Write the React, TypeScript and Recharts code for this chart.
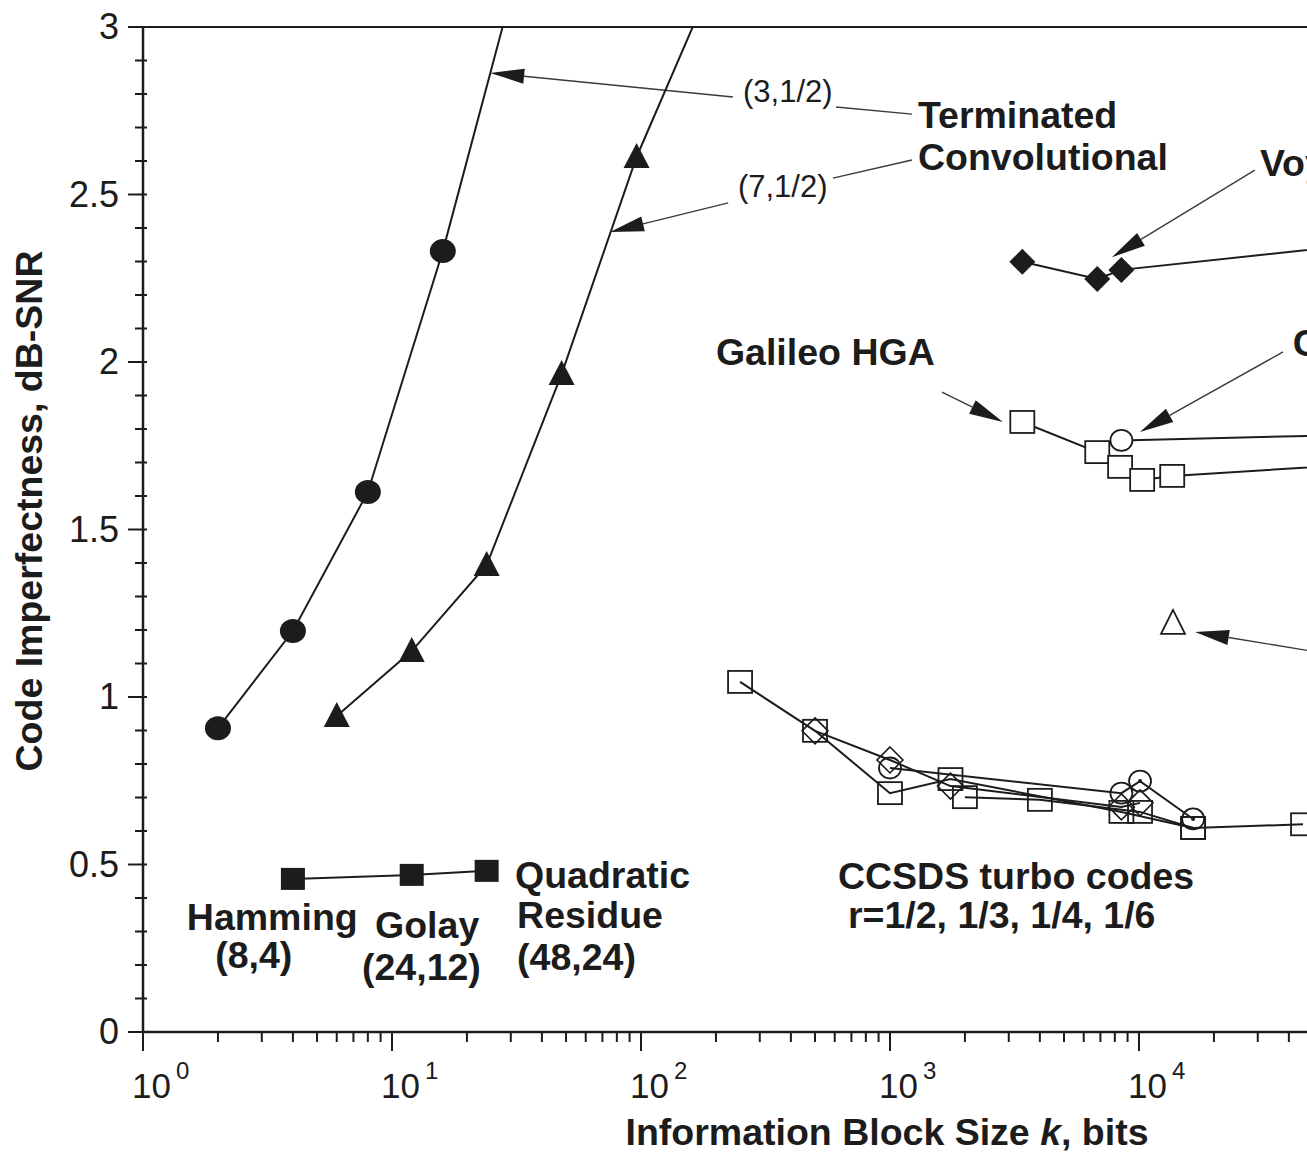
import { Label, Line, LineChart, ReferenceDot, ReferenceLine, XAxis, YAxis } from "recharts";

const INK = "#1c1c1c";
const FONT = "'Liberation Sans', Arial, sans-serif";

// terminated convolutional codes
const conv3K = [2, 4, 8, 16, 32];
const conv3V = [0.907, 1.197, 1.612, 2.331, 3.17];
const conv7K = [6, 12, 24, 48, 96, 192];
const conv7V = [0.943, 1.137, 1.394, 1.964, 2.612, 3.13];

// Hamming (8,4), Golay (24,12), Quadratic Residue (48,24)
const blockK = [4, 12, 24];
const blockV = [0.457, 0.469, 0.481];

// Voyager, Galileo HGA, open circle and open triangle codes
const voyagerK = [3400, 6800, 8500, 100000];
const voyagerV = [2.299, 2.248, 2.275, 2.36];
const galileoK = [3400, 6800, 8400, 10300, 13600, 100000];
const galileoV = [1.821, 1.731, 1.687, 1.648, 1.66, 1.7];
const circleK = [8500, 100000];
const circleV = [1.766, 1.785];
const triangleK = [13700];
const triangleV = [1.221];

// CCSDS turbo codes
const turboAK = [250, 500, 1000, 1750, 8500, 16500, 45600];
const turboAV = [1.045, 0.899, 0.713, 0.755, 0.657, 0.609, 0.62];
const turboBK = [500, 1000, 1750, 8500, 10100];
const turboBV = [0.899, 0.812, 0.734, 0.672, 0.684];
const turboCK = [1000, 8500, 10100, 16500];
const turboCV = [0.788, 0.713, 0.749, 0.636];
const turboDK = [2000, 4000, 10100, 16500];
const turboDV = [0.701, 0.693, 0.657, 0.609];

// axis ticks
const xTicks = [
  1, 2, 3, 4, 5, 6, 7, 8, 9,
  10, 20, 30, 40, 50, 60, 70, 80, 90,
  100, 200, 300, 400, 500, 600, 700, 800, 900,
  1000, 2000, 3000, 4000, 5000, 6000, 7000, 8000, 9000,
  10000, 20000, 30000, 40000,
];
const xMajor = [1, 10, 100, 1000, 10000];
const xExp = ["0", "1", "2", "3", "4"];
const yTicks = [
  0, 0.1, 0.2, 0.3, 0.4, 0.5, 0.6, 0.7, 0.8, 0.9, 1, 1.1, 1.2, 1.3, 1.4, 1.5,
  1.6, 1.7, 1.8, 1.9, 2, 2.1, 2.2, 2.3, 2.4, 2.5, 2.6, 2.7, 2.8, 2.9, 3,
];
const yLabels = [0, 0.5, 1, 1.5, 2, 2.5, 3];

// text notes
const noteText = [
  "(3,1/2)", "(7,1/2)", "Terminated", "Convolutional", "Voyager", "Galileo HGA", "Cassini",
  "Quadratic", "Residue", "(48,24)", "Hamming", "(8,4)", "Golay", "(24,12)",
  "CCSDS turbo codes", "r=1/2, 1/3, 1/4, 1/6",
];
const noteK = [257, 245, 1295, 1295, 30600, 200, 41500, 31.2, 31.8, 31.8, 1.5, 1.95, 8.55, 7.58, 618, 678];
const noteV = [2.776, 2.493, 2.699, 2.573, 2.555, 1.991, 2.018, 0.43, 0.31, 0.185, 0.304, 0.191, 0.281, 0.155, 0.427, 0.31];
const noteBold = [false, false, true, true, true, true, true, true, true, true, true, true, true, true, true, true];

// arrows (tail -> tip) and plain leader lines
const arrowFromK = [234, 224, 29200, 1618, 37900, 58500];
const arrowFromV = [2.791, 2.475, 2.573, 1.91, 2.03, 1.128];
const arrowToK = [24.8, 75.1, 7790, 2843, 10090, 16800];
const arrowToV = [2.863, 2.388, 2.313, 1.821, 1.791, 1.194];
const leaderFromK = [607, 590];
const leaderFromV = [2.761, 2.549];
const leaderToK = [1225, 1225];
const leaderToV = [2.74, 2.603];

const pts = (ks: number[], vs: number[]) => ks.map((k, i) => ({ k, v: vs[i] }));

function filledCircle(p: any) {
  return <ellipse key={p.index} cx={p.cx} cy={p.cy} rx={13} ry={12} fill={INK} />;
}
function filledTriangle(p: any) {
  const { cx, cy } = p;
  return <polygon key={p.index} points={`${cx},${cy - 14} ${cx - 13},${cy + 11} ${cx + 13},${cy + 11}`} fill={INK} />;
}
function filledSquare(p: any) {
  return <rect key={p.index} x={p.cx - 12} y={p.cy - 11} width={24} height={22} fill={INK} />;
}
function filledDiamond(p: any) {
  const { cx, cy } = p;
  return <polygon key={p.index} points={`${cx},${cy - 13} ${cx + 13},${cy} ${cx},${cy + 13} ${cx - 13},${cy}`} fill={INK} />;
}
function openSquare(fill: string) {
  return (p: any) => (
    <rect key={p.index} x={p.cx - 12} y={p.cy - 11} width={24} height={22} fill={fill} stroke={INK} strokeWidth={1.8} />
  );
}
function openCircle(fill: string) {
  return (p: any) => (
    <g key={p.index}>
      <ellipse cx={p.cx} cy={p.cy} rx={11} ry={10.5} fill={fill} stroke={INK} strokeWidth={1.8} />
      {fill === "none" && p.payload.k >= 10000 ? <circle cx={p.cx} cy={p.cy} r={2} fill={INK} /> : null}
    </g>
  );
}
function openDiamond(p: any) {
  const { cx, cy } = p;
  return (
    <polygon key={p.index} points={`${cx},${cy - 13} ${cx + 13},${cy} ${cx},${cy + 13} ${cx - 13},${cy}`}
      fill="none" stroke={INK} strokeWidth={1.6} />
  );
}
function openTriangle(p: any) {
  const { cx, cy } = p;
  return (
    <polygon key={p.index} points={`${cx},${cy - 13} ${cx - 12},${cy + 11} ${cx + 12},${cy + 11}`}
      fill="#fff" stroke={INK} strokeWidth={1.8} />
  );
}

function XTick({ x, y, payload }: any) {
  const idx = xMajor.indexOf(payload.value);
  const major = idx >= 0;
  return (
    <g>
      <line x1={x} y1={y} x2={x} y2={y + (major ? 19 : 10)} stroke={INK} strokeWidth={2} />
      {major ? (
        <text x={x - 11} y={y + 66} fontSize={35} fontFamily={FONT} fill={INK}>
          10
          <tspan dx={5} dy={-19} fontSize={24}>{xExp[idx]}</tspan>
        </text>
      ) : null}
    </g>
  );
}

function YTick({ x, y, payload }: any) {
  const major = yLabels.includes(payload.value);
  return (
    <g>
      <line x1={x - (major ? 15 : 8)} y1={y} x2={x + 4} y2={y} stroke={INK} strokeWidth={2} />
      {major ? (
        <text x={x - 24} y={y + 12} textAnchor="end" fontSize={36} fontFamily={FONT} fill={INK}>
          {String(payload.value)}
        </text>
      ) : null}
    </g>
  );
}

function arrowShape(head: boolean) {
  return (p: any) => {
    const { x1, y1, x2, y2 } = p;
    const dx = x2 - x1;
    const dy = y2 - y1;
    const len = Math.sqrt(dx * dx + dy * dy) || 1;
    const ux = dx / len;
    const uy = dy / len;
    const L = 34;
    const W = 7.5;
    const bx = x2 - ux * L;
    const by = y2 - uy * L;
    return (
      <g>
        <line x1={x1} y1={y1} x2={head ? bx : x2} y2={head ? by : y2} stroke="#3a3a3a" strokeWidth={1.4} />
        {head ? (
          <polygon
            points={`${x2},${y2} ${bx - uy * W},${by + ux * W} ${bx + uy * W},${by - ux * W}`}
            fill={INK}
          />
        ) : null}
      </g>
    );
  };
}

export default function App() {
  const lineProps = { dataKey: "v", stroke: INK, strokeWidth: 2, isAnimationActive: false, activeDot: false } as const;
  return (
    <div style={{ width: 1307, height: 1155, overflow: "hidden", background: "#fff" }}>
      <style>{"body{margin:0;overflow:hidden;background:#fff}"}</style>
      <LineChart width={1307} height={1155} margin={{ top: 27, right: 0, bottom: 0, left: 0 }}>
        <XAxis
          dataKey="k"
          type="number"
          scale="log"
          domain={[1, 47300]}
          allowDataOverflow
          ticks={xTicks}
          interval={0}
          tick={<XTick />}
          tickLine={false}
          tickSize={0}
          tickMargin={0}
          height={123}
          axisLine={{ stroke: INK, strokeWidth: 2.5 }}
        >
          <Label
            content={() => (
              <text x={887} y={1145} textAnchor="middle" fontSize={37.5} fontWeight="bold" fontFamily={FONT} fill={INK}>
                Information Block Size <tspan fontStyle="italic">k</tspan>, bits
              </text>
            )}
          />
        </XAxis>
        <YAxis
          type="number"
          domain={[0, 3]}
          allowDataOverflow
          ticks={yTicks}
          interval={0}
          tick={<YTick />}
          tickLine={false}
          tickSize={0}
          tickMargin={0}
          width={143}
          axisLine={{ stroke: INK, strokeWidth: 2.5 }}
        >
          <Label
            content={() => (
              <text transform="translate(42,511) rotate(-90)" textAnchor="middle" fontSize={37.5} fontWeight="bold" fontFamily={FONT} fill={INK}>
                Code Imperfectness, dB-SNR
              </text>
            )}
          />
        </YAxis>

        <ReferenceLine y={3} stroke={INK} strokeWidth={2} />

        {arrowFromK.map((k, i) => (
          <ReferenceLine
            key={`arrow-${i}`}
            segment={[{ x: k, y: arrowFromV[i] }, { x: arrowToK[i], y: arrowToV[i] }]}
            ifOverflow="visible"
            shape={arrowShape(true)}
          />
        ))}
        {leaderFromK.map((k, i) => (
          <ReferenceLine
            key={`leader-${i}`}
            segment={[{ x: k, y: leaderFromV[i] }, { x: leaderToK[i], y: leaderToV[i] }]}
            ifOverflow="visible"
            shape={arrowShape(false)}
          />
        ))}

        <Line {...lineProps} data={pts(conv3K, conv3V)} dot={filledCircle} />
        <Line {...lineProps} data={pts(conv7K, conv7V)} dot={filledTriangle} />
        <Line {...lineProps} data={pts(blockK, blockV)} dot={filledSquare} />
        <Line {...lineProps} data={pts(voyagerK, voyagerV)} dot={filledDiamond} />
        <Line {...lineProps} data={pts(galileoK, galileoV)} dot={openSquare("#fff")} />
        <Line {...lineProps} data={pts(circleK, circleV)} dot={openCircle("#fff")} />
        <Line {...lineProps} data={pts(triangleK, triangleV)} dot={openTriangle} />
        <Line {...lineProps} data={pts(turboAK, turboAV)} dot={openSquare("none")} />
        <Line {...lineProps} data={pts(turboBK, turboBV)} dot={openDiamond} />
        <Line {...lineProps} data={pts(turboCK, turboCV)} dot={openCircle("none")} />
        <Line {...lineProps} data={pts(turboDK, turboDV)} dot={openSquare("none")} />

        {noteText.map((t, i) => (
          <ReferenceDot
            key={`note-${i}`}
            x={noteK[i]}
            y={noteV[i]}
            r={0}
            ifOverflow="visible"
            shape={(p: any) => (
              <text
                x={p.cx}
                y={p.cy}
                fontSize={noteBold[i] ? 37.5 : 31}
                fontWeight={noteBold[i] ? "bold" : "normal"}
                fontFamily={FONT}
                fill={INK}
              >
                {t}
              </text>
            )}
          />
        ))}
      </LineChart>
    </div>
  );
}
